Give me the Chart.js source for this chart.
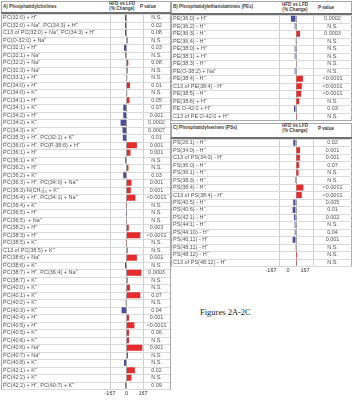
<!DOCTYPE html>
<html>
<head>
<meta charset="utf-8">
<script src="https://cdn.jsdelivr.net/npm/chart.js@4.4.0/dist/chart.umd.min.js"></script>
<style>
  body { margin: 0; background: #fff; width: 354px; height: 401px; overflow: hidden; position: relative;
         font-family: 'Liberation Sans', Arial, sans-serif; }
  .box { position: absolute; border: 1px solid #a8a8a8; box-sizing: border-box; }
  .hd { position: absolute; font-weight: bold; font-size: 4.6px; line-height: 1; color: #3a3a3a; white-space: nowrap; }
  .c { transform: translateX(-50%); }
  .rule { position: absolute; height: 2px; background: #707070; }
  canvas { position: absolute; }
  .fig { position: absolute; left: 200px; top: 307px; font: 8.5px 'Liberation Serif', serif; color: #222; white-space: nowrap; }
</style>
</head>
<body>

<!-- cadres des trois tableaux -->
<div class="box" style="left:1px;top:1px;width:170px;height:389px"></div>
<div class="box" style="left:171px;top:1px;width:181px;height:120px"></div>
<div class="box" style="left:171px;top:123px;width:181px;height:144px"></div>

<div class="rule" style="left:1px;top:12px;width:170px"></div>
<div class="rule" style="left:171px;top:13px;width:181px"></div>
<div class="rule" style="left:171px;top:137px;width:181px"></div>

<!-- en-têtes -->
<div class="hd" style="left:3px;top:5px">A) Phosphatidylcholines</div>
<div class="hd c" style="left:122px;top:2px">HFD vs LFD</div>
<div class="hd c" style="left:122px;top:7.3px">(% Change)</div>
<div class="hd" style="left:140px;top:5px">P value</div>

<div class="hd" style="left:173px;top:5px">B) Phosphatidylethanolamines (PEs)</div>
<div class="hd c" style="left:295px;top:2.5px">HFD vs LFD</div>
<div class="hd c" style="left:295px;top:8px">(% Change)</div>
<div class="hd" style="left:318px;top:5.5px">P value</div>

<div class="hd" style="left:173px;top:126px">C) Phosphatidylserines (PSs)</div>
<div class="hd c" style="left:295px;top:123.8px">HFD vs LFD</div>
<div class="hd c" style="left:295px;top:129.4px">(% Change)</div>
<div class="hd" style="left:318px;top:126.5px">P value</div>

<canvas id="chartA" width="169" height="385" style="left:1px;top:14px"></canvas>
<canvas id="chartB" width="181" height="105" style="left:171px;top:15px"></canvas>
<canvas id="chartC" width="181" height="137" style="left:171px;top:139px"></canvas>

<div class="fig">Figures 2A-2C</div>

<script>
// --- données ---
const xTicks = [-167, 0, 167];

const pcNames = [
  'PC(32:0) + H⁺', 'PC(32:0) + Na⁺, PC(34:3) + H⁺', 'C13 of PC(32:0) + Na⁺, PC(34:3) + H⁺',
  'PC(O-32:0) + Na⁺', 'PC(32:1) + H⁺', 'PC(32:1) + Na⁺', 'PC(32:2) + Na⁺', 'PC(32:3) + Na⁺',
  'PC(33:1) + H⁺', 'PC(34:0) + H⁺', 'PC(34:0) + K⁺', 'PC(34:1) + H⁺', 'PC(34:1) + K⁺',
  'PC(34:2) + H⁺', 'PC(34:2) + K⁺', 'PC(34:3) + K⁺', 'PC(35:3) + H⁺, PC(32:1) + K⁺',
  'PC(36:0) + H⁺, PC(P-38:6) + H⁺', 'PC(36:1) + H⁺', 'PC(36:1) + K⁺', 'PC(36:2) + H⁺',
  'PC(36:2) + K⁺', 'PC(36:3) + H⁺, PC(34:0) + Na⁺', 'PC(36:3)-N(CH₃)₃ + K⁺',
  'PC(36:4) + H⁺, PC(34:1) + Na⁺', 'PC(36:4) + K⁺', 'PC(36:5) + H⁺', 'PC(36:5)  + Na⁺',
  'PC(38:2) + H⁺', 'PC(38:3) + H⁺', 'PC(38:5) + K⁺', 'C13 of PC(38:5) + K⁺', 'PC(38:6) + Na⁺',
  'PC(38:6) + K⁺', 'PC(38:7) + H⁺, PC(36:4) + Na⁺', 'PC(38:7) + K⁺', 'PC(40:0) + K⁺',
  'PC(40:1) + K⁺', 'PC(40:2) + K⁺', 'PC(40:3) + K⁺', 'PC(40:4) + H⁺', 'PC(40:5) + H⁺',
  'PC(40:5) + K⁺', 'PC(40:6) + K⁺', 'PC(40:6) + Na⁺', 'PC(40:7) + Na⁺', 'PC(40:8) + K⁺',
  'PC(42:1) + K⁺', 'PC(42:2) + K⁺', 'PC(42:2) + H⁺, PC(40:7) + K⁺'
];
const pcChange = [
  -15, -15, -15, 12, -25, -12, 18, 12, 7, 35,
  7, 30, -33, -33, -60, -40, -37, 105, 40, -13,
  20, -33, 50, 43, 90, 2, -2, 4, 23, 140,
  2, 12, 105, -15, 150, 12, 35, 140, -8, -50,
  25, 80, 25, 25, 160, 15, -25, 85, 50, -13
];
const pcP = [
  'N.S.', '0.02', '0.08', 'N.S.', '0.03', 'N.S.', '0.08', 'N.S.', 'N.S.', '0.01',
  'N.S.', '0.05', '0.07', '0.001', '0.0002', '0.0007', '0.01', '0.001', '0.001', 'N.S.',
  'N.S.', '0.03', '0.001', '0.001', '<0.0001', 'N.S.', 'N.S.', 'N.S.', '0.003', '<0.0001',
  'N.S.', 'N.S.', '0.001', 'N.S.', '0.0003', 'N.S.', 'N.S.', '0.07', 'N.S.', '0.04',
  '0.001', '<0.0001', '0.06', 'N.S.', '0.001', 'N.S.', 'N.S.', '0.02', 'N.S.', '0.09'
];

const peNames = [
  'PE(36:0) + H⁺', 'PE(36:2) - H⁻', 'PE(36:3) - H⁻', 'PE(36:4) - H⁻', 'PE(38:0) + H⁺',
  'PE(38:1) + H⁺', 'PE(38:3) - H⁻', 'PE(O-38:2) + Na⁺', 'PE(38:4) - H⁻', 'C13 of PE(38:4) - H⁻',
  'PE(38:5) - H⁻', 'PE(38:6) + H⁺', 'PE O-42:0 + H⁺', 'C13 of PE O-42:0 + H⁺'
];
const peChange = [-50, -13, 40, -3, -13, -13, 4, -13, 68, 57, 50, 32, -20, 1];
const peP = ['0.0002', 'N.S.', '0.0003', 'N.S.', 'N.S.', 'N.S.', 'N.S.', 'N.S.',
  '<0.0001', '<0.0001', '<0.0001', 'N.S.', '0.03', 'N.S.'];

const psNames = [
  'PS(26:1) - H⁻', 'PS(34:0) - H⁻', 'C13 of PS(34:0) - H⁻', 'PS(36:0) - H⁻', 'PS(36:1) - H⁻',
  'PS(38:3) - H⁻', 'PS(38:4) - H⁻', 'C13 of PS(38:4) - H⁻', 'PS(40:5) - H⁻', 'PS(40:6) - H⁻',
  'PS(42:1) - H⁻', 'PS(44:1) - H⁻', 'PS(44:10) - H⁻', 'PS(46:11) - H⁻', 'PS(48:11) - H⁻',
  'PS(48:12) - H⁻', 'C13 of PS(48:12) - H⁻'
];
const psChange = [-27, 40, 38, 30, 25, -10, 72, 57, -27, -33, -20, -13, -13, -33, -2, 12, 1];
const psP = ['0.02', '0.001', '0.001', '0.07', 'N.S.', 'N.S.', '<0.0001', '<0.0001', '0.005',
  '0.01', '0.002', 'N.S.', '0.04', '0.001', 'N.S.', 'N.S.', 'N.S.'];

const ROUGE = '#e52b2b';
const BLEU = '#4b4f9a';
const POLICE = "'Liberation Sans', Arial, sans-serif";

// lignes horizontales entre les rangées du tableau
const lignesRangees = {
  id: 'lignesRangees',
  beforeDatasetsDraw(chart) {
    const y = chart.scales.y;
    const n = y.getLabels().length;
    const pas = (y.getPixelForValue(n - 1) - y.getPixelForValue(0)) / (n - 1);
    const ctx = chart.ctx;
    ctx.save();
    ctx.strokeStyle = '#dadada';
    ctx.lineWidth = 1;
    for (let i = 0; i <= n; i++) {
      const py = Math.round(y.getPixelForValue(i) - pas / 2) + 0.5;
      ctx.beginPath();
      ctx.moveTo(0, py);
      ctx.lineTo(chart.width, py);
      ctx.stroke();
    }
    ctx.restore();
  }
};

function creerTableau(id, noms, valeurs, pvals, o) {
  return new Chart(document.getElementById(id), {
    type: 'bar',
    data: {
      labels: noms,
      datasets: [{
        data: valeurs,
        backgroundColor: valeurs.map(v => v >= 0 ? ROUGE : BLEU),
        barPercentage: 0.8,
        categoryPercentage: 1
      }]
    },
    options: {
      indexAxis: 'y',
      responsive: false,
      animation: false,
      devicePixelRatio: 1,
      layout: { padding: { left: 2, right: 0, top: 0, bottom: 0 } },
      plugins: { legend: { display: false }, tooltip: { enabled: false } },
      scales: {
        x: {
          type: 'linear', min: -167, max: 167,
          afterBuildTicks: a => { a.ticks = xTicks.map(v => ({ value: v })); },
          afterFit: s => { s.height = o.axeH; s.paddingLeft = 0; s.paddingRight = 0; },
          grid: { drawTicks: false, color: c => (c.tick && c.tick.value === 0) ? '#a3a3a3' : '#cfcfcf' },
          border: { display: false },
          ticks: {
            display: o.axeH > 0, padding: 1.5, labelOffset: o.decalage, autoSkip: false, maxRotation: 0,
            font: { size: 5.5, family: POLICE }, color: '#333'
          }
        },
        y: {
          type: 'category', position: 'left', offset: true,
          grid: { display: false, drawTicks: false }, border: { display: false },
          ticks: { crossAlign: 'far', autoSkip: false, font: { size: 5.5, family: POLICE }, color: '#555' },
          afterFit: s => { s.width = o.gaucheW; s.paddingTop = 0; s.paddingBottom = 0; }
        },
        p: {
          type: 'category', position: 'right', offset: true, labels: pvals,
          grid: { display: false, drawTicks: false }, border: { display: false },
          ticks: { crossAlign: 'center', padding: o.pPad, autoSkip: false, font: { size: 5.5, family: POLICE }, color: '#555' },
          afterFit: s => { s.width = o.droiteW; s.paddingTop = 0; s.paddingBottom = 0; }
        }
      }
    },
    plugins: [lignesRangees]
  });
}

creerTableau('chartA', pcNames, pcChange, pcP, { gaucheW: 107, droiteW: 27, pPad: 3.5, axeH: 10, decalage: 0 });
creerTableau('chartB', peNames, peChange, peP, { gaucheW: 106, droiteW: 39, pPad: 9.5, axeH: 0, decalage: 0 });
creerTableau('chartC', psNames, psChange, psP, { gaucheW: 106, droiteW: 39, pPad: 9.5, axeH: 10, decalage: -8 });
</script>
</body>
</html>
